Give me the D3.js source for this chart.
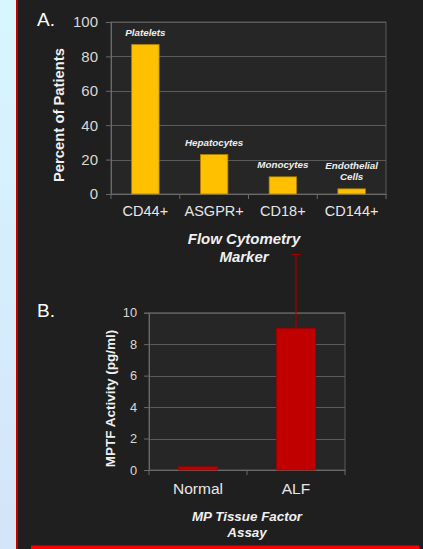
<!DOCTYPE html>
<html><head><meta charset="utf-8">
<script src="https://cdn.jsdelivr.net/npm/d3@7"></script>
<style>
html,body{margin:0;padding:0;background:#1f1f1f;}
svg{display:block;font-family:"Liberation Sans",Arial,sans-serif;}
</style></head><body>
<svg id="c" width="423" height="549"></svg>
<script>
// Panel A data
const markers = ["CD44+", "ASGPR+", "CD18+", "CD144+"];
const percentPatients = [87, 23, 10, 3];
const cellTypes = [["Platelets"], ["Hepatocytes"], ["Monocytes"], ["Endothelial", "Cells"]];
const ticksA = [0, 20, 40, 60, 80, 100];
// Panel B data
const groups = ["Normal", "ALF"];
const mptfActivity = [0.2, 9];
const mptfError = [0, 4.7];
const ticksB = [0, 2, 4, 6, 8, 10];

const svg = d3.select("#c");
const FF = "Liberation Sans, Arial, sans-serif";
// background
const defs = svg.append("defs");
const lg = defs.append("linearGradient").attr("id","lb").attr("x1",0).attr("y1",0).attr("x2",0).attr("y2",1);
lg.append("stop").attr("offset","0%").attr("stop-color","#d8f6ff");
lg.append("stop").attr("offset","100%").attr("stop-color","#d4e4f8");
svg.append("rect").attr("x",0).attr("y",0).attr("width",423).attr("height",549).attr("fill","#1f1f1f");
svg.append("rect").attr("x",0).attr("y",0).attr("width",16).attr("height",549).attr("fill","url(#lb)");
svg.append("rect").attr("x",16).attr("y",0).attr("width",2).attr("height",549).attr("fill","#c00000");
svg.append("rect").attr("x",31).attr("y",545.5).attr("width",388).attr("height",4).attr("fill","#ff0000");

function panel(o){
  const g = svg.append("g");
  const x = d3.scaleBand().domain(o.cats).range([o.x0,o.x1]).paddingInner(0.6).paddingOuter(0.3);
  const y = d3.scaleLinear().domain([0,o.max]).range([o.y0,o.y1]);
  // plot area
  g.append("rect").attr("x",o.x0).attr("y",o.y1).attr("width",o.x1-o.x0).attr("height",o.y0-o.y1)
    .attr("fill","#262626").attr("stroke","#5a5a5a").attr("stroke-width",1);
  // gridlines
  g.selectAll(".grid").data(o.ticks.filter(t=>t>0)).join("line")
    .attr("x1",o.x0).attr("x2",o.x1).attr("y1",d=>Math.round(y(d))+0.5).attr("y2",d=>Math.round(y(d))+0.5)
    .attr("stroke","#5a5a5a").attr("stroke-width",1);
  // y axis
  const ya = g.append("g").attr("transform",`translate(${o.x0},0)`)
    .call(d3.axisLeft(y).tickValues(o.ticks).tickSize(5).tickPadding(o.tpad));
  ya.select(".domain").attr("stroke","#6a6a6a");
  ya.selectAll(".tick line").attr("stroke","#6a6a6a");
  ya.selectAll(".tick text").attr("fill","#d8d8d8").attr("font-size",o.yfs).style("font-family",FF);
  // x axis
  const xa = g.append("g").attr("transform",`translate(0,${o.y0})`)
    .call(d3.axisBottom(x).tickSize(0).tickPadding(0));
  xa.select(".domain").attr("stroke","#6a6a6a");
  xa.selectAll(".tick text").attr("fill","#e6e6e6").attr("font-size",o.xfs).style("font-family",FF)
    .attr("dy",null).attr("y",o.xlab);
  const bounds = d3.range(o.cats.length+1).map(i=>o.x0 + i*(o.x1-o.x0)/o.cats.length);
  g.selectAll(".xt").data(bounds).join("line")
    .attr("x1",d=>d).attr("x2",d=>d).attr("y1",o.y0).attr("y2",o.y0+5).attr("stroke","#6a6a6a");
  // bars
  g.selectAll(".bar").data(o.vals).join("rect")
    .attr("x",(d,i)=>x(o.cats[i])).attr("width",x.bandwidth())
    .attr("y",d=>y(d)).attr("height",d=>o.y0-y(d))
    .attr("fill",o.color).attr("stroke",o.stroke).attr("stroke-width",0.8);
  // y title
  g.append("text").attr("transform",`translate(${o.ytx},${o.yty}) rotate(-90)`)
    .attr("text-anchor","middle").attr("fill","#f0f0f0").attr("font-weight","bold")
    .attr("font-size",o.ytfs).text(o.ytitle);
  // x title
  g.append("text").attr("text-anchor","middle").attr("fill","#f0f0f0").attr("font-weight","bold")
    .attr("font-style","italic").attr("font-size",o.xtfs)
    .selectAll("tspan").data(o.xtitle).join("tspan")
    .attr("x",o.xtx).attr("y",(d,i)=>o.xty+i*o.xtlh).text(d=>d);
  // panel letter
  svg.append("text").attr("x",37).attr("y",o.ly).attr("fill","#ffffff").attr("font-size",19).text(o.letter);
  return {x,y,g};
}

const A = panel({cats:markers, vals:percentPatients, max:100, ticks:ticksA,
  x0:111, x1:386, y0:194, y1:22, color:"#ffc000", stroke:"#a67c00",
  yfs:15, tpad:8, xfs:14.5, xlab:22, ytitle:"Percent of Patients", ytx:63.5, yty:115, ytfs:14.8,
  xtitle:["Flow Cytometry","Marker"], xtx:244, xty:244, xtlh:18, xtfs:15, letter:"A.", ly:26});
// cell-type annotations
A.g.selectAll(".ann").data(cellTypes).join("text")
  .attr("text-anchor","middle").attr("fill","#eeeeee").attr("font-weight","bold").attr("font-style","italic")
  .attr("font-size",9.8)
  .each(function(d,i){
    const t = d3.select(this);
    const cx = A.x(markers[i]) + A.x.bandwidth()/2;
    const top = A.y(percentPatients[i]) - 8.5 - (d.length-1)*11.5;
    d.forEach((s,j)=>t.append("tspan").attr("x",cx).attr("y",top + j*11.5).text(s));
  });

const B = panel({cats:groups, vals:mptfActivity, max:10, ticks:ticksB,
  x0:149, x1:345, y0:470, y1:312.7, color:"#c00000", stroke:"#a00000",
  yfs:12.8, tpad:7, xfs:15.5, xlab:24, ytitle:"MPTF Activity (pg/ml)", ytx:115, yty:398.5, ytfs:13.5,
  xtitle:["MP Tissue Factor","Assay"], xtx:247, xty:520.5, xtlh:16.5, xtfs:13.4, letter:"B.", ly:316.5});
// error bars
const eb = groups.map((g,i)=>({g, v:mptfActivity[i], e:mptfError[i]})).filter(d=>d.e>0);
eb.forEach(d=>{
  const cx = B.x(d.g) + B.x.bandwidth()/2;
  svg.append("line").attr("x1",cx).attr("x2",cx).attr("y1",B.y(d.v)).attr("y2",B.y(d.v+d.e))
    .attr("stroke","#9a0000").attr("stroke-width",1.2);
  svg.append("line").attr("x1",cx-5).attr("x2",cx+5).attr("y1",B.y(d.v+d.e)).attr("y2",B.y(d.v+d.e))
    .attr("stroke","#9a0000").attr("stroke-width",1.2);
});
</script>
</body></html>
